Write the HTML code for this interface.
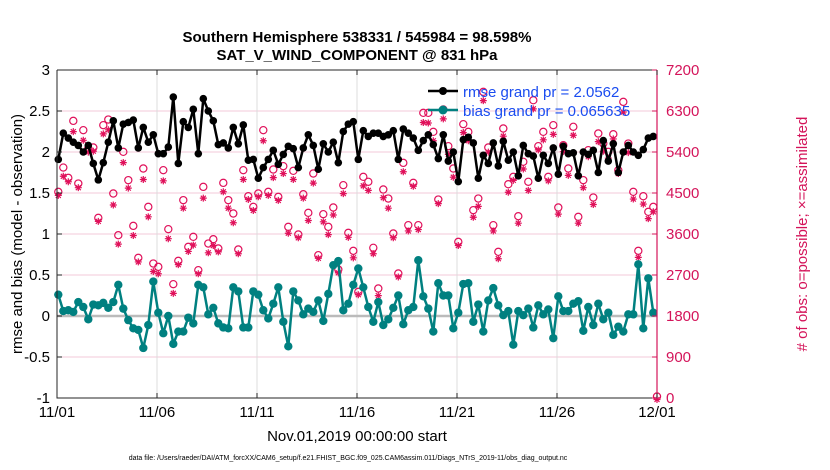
<!DOCTYPE html>
<html><head><meta charset="utf-8">
<style>
body{margin:0;background:#fff;}
svg{font-family:"Liberation Sans",sans-serif;display:block}
</style></head>
<body>
<svg id="chart" width="830" height="470" viewBox="0 0 830 470" xmlns="http://www.w3.org/2000/svg">
<text x="357" y="42" text-anchor="middle" font-size="15" font-weight="bold">Southern Hemisphere 538331 / 545984 = 98.598%</text>
<text x="357" y="60" text-anchor="middle" font-size="15" font-weight="bold">SAT_V_WIND_COMPONENT @ 831 hPa</text>
<g id="grid"></g>
<g id="marks"></g>
<g id="axes"></g>
<text transform="translate(22,234) rotate(-90)" text-anchor="middle" font-size="15">rmse and bias (model - observation)</text>
<text transform="translate(807,234) rotate(-90)" text-anchor="middle" font-size="15" fill="#d4145a"># of obs: o=possible; ×=assimilated</text>
<text x="357" y="441" text-anchor="middle" font-size="15">Nov.01,2019 00:00:00 start</text>
<text x="348" y="460" text-anchor="middle" font-size="7">data file: /Users/raeder/DAI/ATM_forcXX/CAM6_setup/f.e21.FHIST_BGC.f09_025.CAM6assim.011/Diags_NTrS_2019-11/obs_diag_output.nc</text>
<g>
<line x1="428" y1="91" x2="458" y2="91" stroke="#000" stroke-width="2.5"/>
<circle cx="443" cy="91" r="4" fill="#000"/>
<text x="463" y="97" font-size="15" fill="#1a4cf0">rmse grand pr = 2.0562</text>
<line x1="428" y1="110" x2="458" y2="110" stroke="#008080" stroke-width="2.5"/>
<circle cx="443" cy="110" r="4.5" fill="#008080"/>
<text x="463" y="116" font-size="15" fill="#1a4cf0">bias grand pr = 0.065635</text>
</g>
</svg>
<script>
const xTickLabels=["11/01","11/06","11/11","11/16","11/21","11/26","12/01"];
const xTickDays=[0,5,10,15,20,25,30];
const yLeftTicks=[-1,-0.5,0,0.5,1,1.5,2,2.5,3];
const yRightTicks=[0,900,1800,2700,3600,4500,5400,6300,7200];
const rmse=[1.91,2.23,2.17,2.12,2.08,2.00,2.08,1.86,1.66,1.87,2.12,2.38,2.05,2.34,2.36,2.39,2.05,2.30,2.12,2.21,1.98,1.98,2.06,2.67,1.86,2.37,2.30,2.52,1.98,2.65,2.50,2.38,2.09,2.11,2.05,2.30,2.10,2.33,1.90,1.91,1.68,1.81,
1.91,2.02,1.85,1.97,2.07,2.04,1.81,2.05,2.21,2.08,1.79,2.10,2.00,2.12,1.87,2.25,2.34,2.37,1.91,2.26,2.19,2.23,2.23,2.19,2.21,2.26,1.91,2.28,2.23,2.17,2.02,2.14,2.21,2.09,1.92,2.21,1.89,2.00,1.64,2.15,
2.18,2.11,1.68,1.96,1.86,2.11,1.83,2.13,1.90,2.00,1.71,2.08,1.98,1.95,1.68,1.96,1.86,2.05,1.73,2.07,1.98,1.99,1.71,2.00,1.97,2.02,1.75,2.14,1.89,2.10,1.75,2.00,2.08,2.00,1.96,2.03,2.17,2.19];
const bias=[0.26,0.06,0.07,0.05,0.17,0.11,-0.04,0.14,0.13,0.16,0.10,0.17,0.38,0.09,-0.05,-0.15,-0.17,-0.39,-0.11,0.42,0.04,-0.21,0.00,-0.34,-0.19,-0.19,-0.02,-0.09,0.38,0.35,0.02,0.10,-0.09,-0.14,-0.15,0.35,0.30,-0.14,-0.14,0.30,0.26,0.07,
-0.03,0.15,0.35,-0.07,-0.37,0.30,0.19,0.02,0.09,0.05,0.19,-0.06,0.27,0.62,0.67,0.07,0.15,0.38,0.58,0.35,0.11,-0.07,0.17,-0.11,-0.04,0.10,0.25,-0.10,0.07,0.11,0.68,0.24,0.09,-0.19,0.40,0.25,0.25,-0.15,0.04,0.39,
0.40,-0.07,0.14,-0.19,0.19,0.34,0.13,0.01,0.06,-0.35,0.06,0.01,0.09,-0.14,0.13,0.02,0.08,-0.27,0.24,0.06,0.06,0.15,0.18,-0.18,0.11,-0.11,0.15,-0.04,0.04,-0.23,-0.13,-0.19,0.02,0.02,0.63,-0.15,0.46,0.04];
const possible=[4493,5026,4800,6051,4675,5846,5444,5466,3922,5956,6080,4456,3541,5371,4749,3746,3044,5005,4163,2919,2846,4968,3673,2466,2978,4310,3285,3505,2773,4602,3358,3453,3249,4690,4310,4017,3227,4968,4397,4163,4456,5846,
4493,4983,4383,5056,3724,4954,3556,4441,4032,4895,3102,4002,3724,4149,2788,4639,3593,3198,2298,4822,4713,3264,2371,4544,4346,3578,2700,5129,3761,4690,3761,6227,6227,5810,4324,6300,5495,5005,3395,5978,
5810,4090,4346,6688,5466,3761,3176,5883,4660,4822,3958,5152,4713,6504,5495,5810,4822,5956,4149,5516,5005,5920,3944,4749,5407,4368,5773,5553,5371,5758,4968,6468,5553,4493,3198,4397,4054,4163,0];
const assimilated=[4480,4900,4780,5880,4650,5690,5430,5450,3910,5830,5920,4270,3410,5200,4640,3600,3020,4830,4010,2810,2760,4800,3530,2330,2960,4200,3250,3390,2760,4420,3220,3380,3240,4560,4200,3880,3200,4830,4390,4150,4450,5680,
4480,4870,4370,4960,3650,4830,3550,4420,3930,4750,3100,3900,3620,4050,2780,4520,3560,3110,2300,4690,4590,3200,2280,4430,4200,3550,2690,5000,3700,4680,3730,6080,6070,5680,4300,6160,5380,4880,3380,5860,
5680,4000,4240,6560,5430,3700,3090,5780,4550,4810,3870,5060,4590,6380,5480,5700,4800,5820,4070,5440,4920,5800,3870,4650,5330,4280,5660,5450,5300,5720,4960,6310,5420,4400,3120,4290,3970,4120,0];

const NS="http://www.w3.org/2000/svg";
const L=57,R=657,T=70,B=398;
function xs(i){return L+1.3+i*5;}
function xd(d){return L+d*(R-L)/30;}
function yl(v){return B-(v+1)*(B-T)/4;}
function yr(v){return B-v*(B-T)/7200;}
function mk(tag,attrs,parent){const e=document.createElementNS(NS,tag);for(const k in attrs)e.setAttribute(k,attrs[k]);parent.appendChild(e);return e;}
const grid=document.getElementById('grid'),marks=document.getElementById('marks'),axes=document.getElementById('axes');

yRightTicks.forEach(v=>{const g=mk('line',{x1:L,x2:R,y1:yr(v),y2:yr(v),stroke:'#f3c9d8','stroke-width':1},grid);

});
xTickDays.forEach(d=>{const g=mk('line',{x1:xd(d),x2:xd(d),y1:T,y2:B,stroke:'#dcdcdc','stroke-width':1},grid);

});
const z=mk('line',{x1:L,x2:R,y1:yl(0),y2:yl(0),stroke:'#bbb','stroke-width':2.5},grid);



// obs counts
possible.forEach((v,i)=>{const x=i<120?xs(i):R;
const c=mk('circle',{cx:x,cy:yr(v)-1.5,r:3.6,fill:'none',stroke:'#e0105a','stroke-width':1.2},marks);

});
assimilated.forEach((v,i)=>{const x=i<120?xs(i):R;const y=yr(v)+1.5;const s=3.5,d=2.5;
const t=mk('path',{d:`M${x-s},${y}H${x+s}M${x},${y-s}V${y+s}M${x-d},${y-d}L${x+d},${y+d}M${x-d},${y+d}L${x+d},${y-d}`,stroke:'#e0105a','stroke-width':1.2,fill:'none'},marks);

});

function series(vals,color,r,name){
 const p=mk('polyline',{points:vals.map((v,i)=>xs(i)+','+yl(v)).join(' '),fill:'none',stroke:color,'stroke-width':2.5,'stroke-linejoin':'round'},marks);
 
 
 vals.forEach((v,i)=>{const c=mk('circle',{cx:xs(i),cy:yl(v),r:r,fill:color},marks);
 
 });
}
series(rmse,'#000',3.8,'rmse');
series(bias,'#008080',4.2,'bias');

// frame
const f=mk('path',{d:`M${L},${T}H${R}M${L},${T}V${B}H${R}`,fill:'none',stroke:'#262626','stroke-width':1},axes);


const ra=mk('line',{x1:R,x2:R,y1:T,y2:B,stroke:'#d4145a','stroke-width':1.2},axes);


yLeftTicks.forEach(v=>{const t=mk('text',{x:L-7,y:yl(v)+5,'text-anchor':'end','font-size':15},axes);t.textContent=String(v);


mk('line',{x1:L,x2:L+5,y1:yl(v),y2:yl(v),stroke:'#262626'},axes);});
yRightTicks.forEach(v=>{const t=mk('text',{x:R+9,y:yr(v)+5,'font-size':15,fill:'#d4145a'},axes);t.textContent=String(v);


mk('line',{x1:R-5,x2:R,y1:yr(v),y2:yr(v),stroke:'#d4145a'},axes);});
xTickDays.forEach((d,i)=>{const t=mk('text',{x:xd(d),y:B+19,'text-anchor':'middle','font-size':15},axes);t.textContent=xTickLabels[i];


mk('line',{x1:xd(d),x2:xd(d),y1:B,y2:B-5,stroke:'#262626'},axes);
mk('line',{x1:xd(d),x2:xd(d),y1:T,y2:T+5,stroke:'#262626'},axes);});
</script>
</body></html>
